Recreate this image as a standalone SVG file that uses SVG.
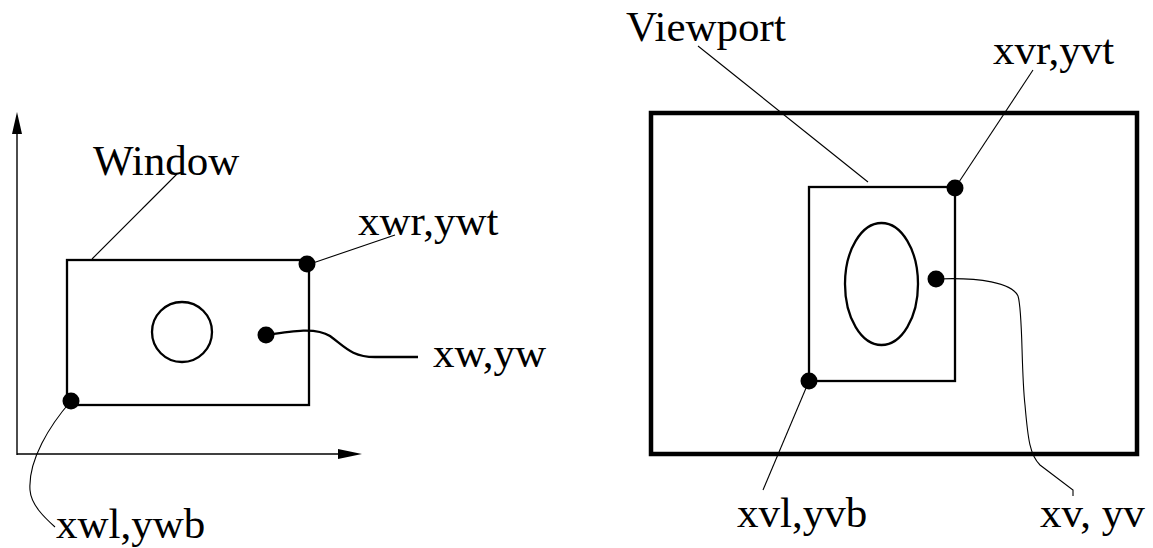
<svg xmlns="http://www.w3.org/2000/svg" width="1153" height="548" viewBox="0 0 1153 548">
<style>
text{font-family:"Liberation Serif","Times New Roman",serif;font-size:43px;fill:#000}
.shape{fill:none;stroke:#000;stroke-width:2.3}
.thin{fill:none;stroke:#000;stroke-width:1.1}
.axis{fill:none;stroke:#000;stroke-width:1.4}
.dot{fill:#000}
</style>
<rect width="1153" height="548" fill="#fff"/>
<g id="axes">
<line class="axis" x1="17" y1="455" x2="17" y2="130"/>
<polygon points="17,112 12,134 22,134"/>
<line class="axis" x1="17" y1="454" x2="340" y2="454"/>
<polygon points="362,454 338,449 338,459"/>
</g>
<g id="window">
<rect class="shape" x="67" y="260" width="242" height="145"/>
<circle class="shape" cx="182" cy="332" r="30"/>
<text x="93" y="175">Window</text>
</g>
<g id="outer-screen">
<rect fill="none" stroke="#000" stroke-width="4.5" x="651" y="113" width="486" height="341"/>
</g>
<g id="viewport">
<rect class="shape" x="809" y="187" width="146" height="194"/>
<ellipse class="shape" cx="881.5" cy="284" rx="36.5" ry="61"/>
<text x="626" y="41">Viewport</text>
</g>
<g id="connectors">
<line class="thin" x1="92" y1="259" x2="177" y2="174"/>
<line class="thin" x1="307" y1="265" x2="395" y2="235"/>
<path class="shape" d="M266,335 C292,331 316,327 330,336 C345,347 352,357 375,357 L418,357"/>
<path class="thin" d="M71,401 C50,425 28,460 30,490 C31,505 45,518 55,527"/>
<line class="thin" x1="698" y1="46" x2="868" y2="182"/>
<line class="thin" x1="955" y1="188" x2="1033" y2="70"/>
<line class="thin" x1="809" y1="381" x2="763" y2="490"/>
<path class="thin" d="M936,279 C980,277 1012,283 1018,296 C1023,312 1021,370 1025,405 C1028,440 1030,455 1040,465 L1073,490 L1073,496"/>
</g>
<g id="points">
<circle class="dot" cx="307" cy="264" r="8.5"/>
<circle class="dot" cx="266" cy="335" r="8.5"/>
<circle class="dot" cx="71" cy="401" r="8.5"/>
<circle class="dot" cx="955" cy="188" r="8.5"/>
<circle class="dot" cx="936" cy="279" r="8.5"/>
<circle class="dot" cx="809" cy="381" r="8.5"/>
</g>
<g id="labels">
<text x="358" y="235">xwr,ywt</text>
<text x="433" y="367">xw,yw</text>
<text x="56" y="538">xwl,ywb</text>
<text x="993" y="64">xvr,yvt</text>
<text x="737" y="527">xvl,yvb</text>
<text x="1040" y="527">xv, yv</text>
</g>
</svg>
